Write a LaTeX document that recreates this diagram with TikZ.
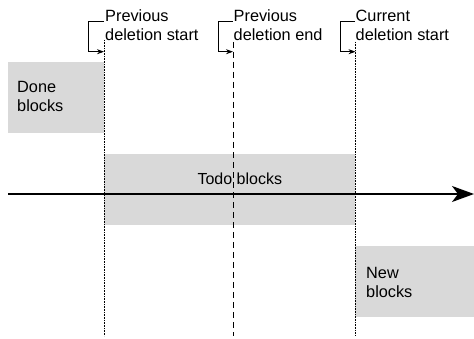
\documentclass[tikz,border=0pt]{standalone}
\usepackage{fontspec}
\setmainfont{Liberation Sans}
\usetikzlibrary{arrows.meta}
\begin{document}
\begin{tikzpicture}[x=1pt,y=1pt,
  blk/.style={fill=black!15,draw=none,inner sep=0pt},
  lbl/.style={font=\fontsize{16.3}{19.3}\selectfont,align=left,inner sep=0pt,anchor=base west},
  dotline/.style={line width=0.8pt,dash pattern=on 0.8pt off 0.8pt},
  dashline/.style={line width=0.8pt,dash pattern=on 6pt off 4pt},
  brk/.style={line width=0.7pt,-{Stealth[length=7pt,width=5pt]}},
  axis/.style={line width=1.1pt,-{Stealth[length=22pt,width=16pt,inset=6pt]}}]
\useasboundingbox (0,0) rectangle (474,338);
% blocks
\node[blk,minimum width=96pt,minimum height=71pt,anchor=north west] (done) at (8,276) {};
\node[blk,minimum width=251pt,minimum height=71pt,anchor=north west] (todo) at (104,184) {};
\node[blk,minimum width=119pt,minimum height=71pt,anchor=north west] (new) at (355,92) {};
\node[lbl] (donet) at (17,226.5) {Done\\blocks};
\node[lbl] (newt) at (366,40.7) {New\\blocks};
\node[font=\fontsize{16}{19}\selectfont,inner sep=0pt,anchor=base] (todot) at (239.8,154) {Todo blocks};
% axis
\coordinate (axs) at (8,144);
\coordinate (axe) at (474,144);
\draw[axis] (axs) -- (axe);
% vertical lines
\coordinate (v1t) at (104,298); \coordinate (v1b) at (104,2);
\coordinate (v2t) at (233,296); \coordinate (v2b) at (233,2);
\coordinate (v3t) at (355,296); \coordinate (v3b) at (355,2);
\draw[dotline] (v1t) -- (v1b);
\draw[dashline] (v2t) -- (v2b);
\draw[dotline] (v3t) -- (v3b);
% labels
\node[lbl] (l1) at (105,297.5) {Previous\\deletion start};
\node[lbl] (l2) at (233.5,297.5) {Previous\\deletion end};
\node[lbl] (l3) at (355.5,297.5) {Current\\deletion start};
% brackets
\coordinate (b1a) at (104,316.3); \coordinate (b1b) at (88,316.3); \coordinate (b1c) at (88,286.3); \coordinate (b1d) at (104,286.3);
\coordinate (b2a) at (232.5,316.3); \coordinate (b2b) at (218,316.3); \coordinate (b2c) at (218,286.3); \coordinate (b2d) at (233,286.3);
\coordinate (b3a) at (355,316.3); \coordinate (b3b) at (340,316.3); \coordinate (b3c) at (340,286.3); \coordinate (b3d) at (355.5,286.3);
\draw[brk] (b1a) -- (b1b) -- (b1c) -- (b1d);
\draw[brk] (b2a) -- (b2b) -- (b2c) -- (b2d);
\draw[brk] (b3a) -- (b3b) -- (b3c) -- (b3d);
\end{tikzpicture}
\end{document}
